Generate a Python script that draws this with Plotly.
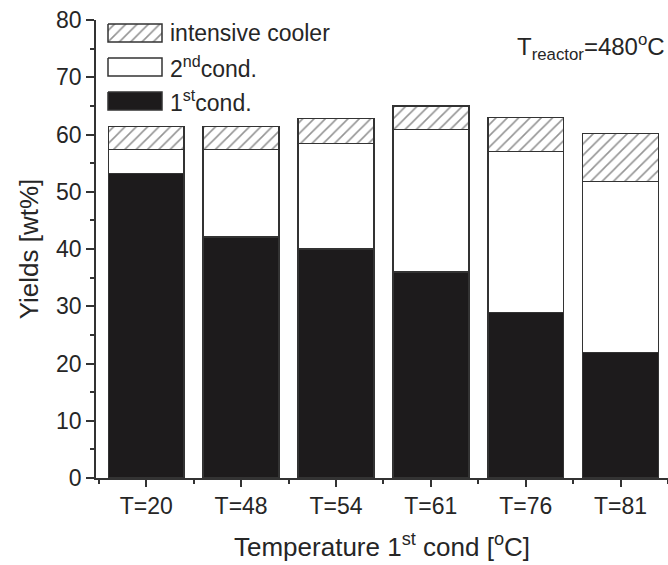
import plotly.graph_objects as go

categories = ["T=20", "T=48", "T=54", "T=61", "T=76", "T=81"]
first_cond = [53.2, 42.1, 40.0, 36.0, 28.9, 21.9]
second_cond = [4.2, 15.3, 18.4, 24.9, 28.1, 29.9]
intensive_cooler = [4.0, 4.0, 4.4, 4.1, 6.0, 8.4]
y_ticks = [0, 10, 20, 30, 40, 50, 60, 70, 80]

FONT = "Liberation Sans, Arial, sans-serif"
TXT = "#262626"
EDGE = "#333333"
BLACK = "#1d1b1c"
HATCH = dict(shape="/", size=8, solidity=0.2, fgcolor="#2a2a2a", bgcolor="white")

x = list(range(len(categories)))
fig = go.Figure()
fig.add_trace(go.Bar(x=x, y=first_cond, name="1st cond.", width=0.8,
                     marker=dict(color=BLACK, line=dict(color=EDGE, width=1.5)),
                     showlegend=False))
fig.add_trace(go.Bar(x=x, y=second_cond, name="2nd cond.", width=0.8,
                     marker=dict(color="white", line=dict(color=EDGE, width=1.5)),
                     showlegend=False))
fig.add_trace(go.Bar(x=x, y=intensive_cooler, name="intensive cooler", width=0.8,
                     marker=dict(color="white", line=dict(color=EDGE, width=1.5),
                                 pattern=HATCH),
                     showlegend=False))

# custom legend swatches (overlay axes in pixel units of plot area)
def rect(x0, y0, x1, y1):
    return [x0, x1, x1, x0, x0], [y0, y0, y1, y1, y0]

sw = [
    (4, 22, "white", HATCH),
    (38, 56, "white", None),
    (72, 90, BLACK, None),
]
for y0, y1, col, pat in sw:
    xs, ys = rect(12, y0, 66, y1)
    kw = dict(x=xs, y=ys, xaxis="x2", yaxis="y2", mode="lines", fill="toself",
              fillcolor=col, line=dict(color=EDGE, width=1.5),
              showlegend=False, hoverinfo="skip")
    if pat:
        kw["fillpattern"] = pat
    fig.add_trace(go.Scatter(**kw))

legend_texts = ["intensive cooler", "2<sup>nd</sup>cond.", "1<sup>st</sup>cond."]
for (y0, y1, _, _), t in zip(sw, legend_texts):
    fig.add_annotation(x=72, y=(y0 + y1) / 2, xref="x2", yref="y2", text=t,
                       showarrow=False, xanchor="left", yanchor="middle",
                       font=dict(family=FONT, size=23, color=TXT))

fig.add_annotation(x=571, y=27, xref="x2", yref="y2",
                   text="T<sub>reactor</sub>=480<sup>o</sup>C",
                   showarrow=False, xanchor="right", yanchor="middle",
                   font=dict(family=FONT, size=24, color=TXT))

fig.update_layout(
    barmode="stack",
    width=668, height=565,
    margin=dict(l=96, r=0, t=20, b=87),
    plot_bgcolor="white", paper_bgcolor="white",
    font=dict(family=FONT, color=TXT),
    xaxis=dict(range=[-0.53, 5.5], tickmode="array", tickvals=x, ticktext=categories,
               showline=True, linecolor=EDGE, linewidth=1.5, showgrid=False, zeroline=False,
               ticks="outside", ticklen=7, tickwidth=1.5, tickcolor=EDGE,
               tickfont=dict(family=FONT, size=23, color=TXT),
               minor=dict(tickmode="array", tickvals=[-0.5, 0.5, 1.5, 2.5, 3.5, 4.5, 5.5],
                          ticks="outside", ticklen=4, tickwidth=1.5, tickcolor=EDGE, showgrid=False),
               title=dict(text="Temperature 1<sup>st</sup> cond [<sup>o</sup>C]",
                          font=dict(family=FONT, size=26, color=TXT), standoff=19)),
    yaxis=dict(range=[0, 80], tickmode="array", tickvals=y_ticks,
               showline=True, linecolor=EDGE, linewidth=1.5, showgrid=False, zeroline=False,
               ticks="outside", ticklen=8, tickwidth=1.5, tickcolor=EDGE,
               tickfont=dict(family=FONT, size=23, color=TXT),
               minor=dict(dtick=5, ticks="outside", ticklen=4, tickwidth=1.5, tickcolor=EDGE,
                          showgrid=False),
               title=dict(text="Yields [wt%]", font=dict(family=FONT, size=26, color=TXT),
                          standoff=10)),
    xaxis2=dict(overlaying="x", range=[0, 572], visible=False, fixedrange=True),
    yaxis2=dict(overlaying="y", range=[458, 0], visible=False, fixedrange=True),
)

fig.write_html("out.html", config={"displayModeBar": False},
               post_script="document.body.style.margin='0';")
